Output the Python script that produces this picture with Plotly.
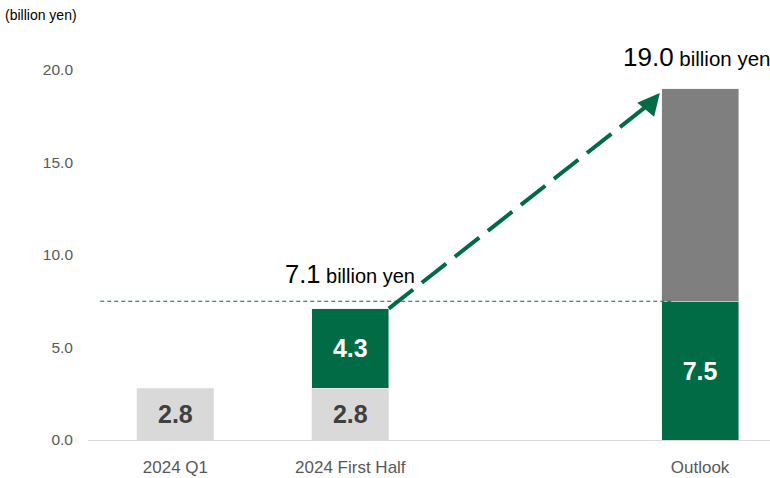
import plotly.graph_objects as go

# Category positions (slot 2 left empty to open space before the outlook bar)
categories = ["2024 Q1", "2024 First Half", "Outlook"]
positions = [0, 1, 3]

# Values in billion yen
base_values = [2.8, 2.8, None]       # light grey segment
growth_values = [None, 4.3, 7.5]     # green segment
remaining_values = [None, None, 11.5]  # dark grey segment (outlook remainder)

half_total = 7.1
outlook_total = 19.0
reference_level = 7.5

y_ticks = [0, 5, 10, 15, 20]
y_tick_text = ["0.0", "5.0", "10.0", "15.0", "20.0"]

GREEN = "#006B45"
LIGHT = "#D9D9D9"
DARK = "#7F7F7F"
FONT = "Liberation Sans, Arial, sans-serif"
BAR_W = 0.44


def fmt(vals):
    return [f"{v:.1f}" if v is not None else "" for v in vals]


fig = go.Figure()

fig.add_trace(go.Bar(
    x=positions, y=base_values, width=BAR_W, marker_color=LIGHT,
    text=fmt(base_values), textposition="inside", insidetextanchor="middle",
    textangle=0, constraintext="none",
    textfont=dict(family=FONT, size=25, color="#404040", weight="bold"),
    hoverinfo="skip",
))
fig.add_trace(go.Bar(
    x=positions, y=growth_values, width=BAR_W, marker_color=GREEN,
    text=fmt(growth_values), textposition="inside", insidetextanchor="middle",
    textangle=0, constraintext="none",
    textfont=dict(family=FONT, size=25, color="white", weight="bold"),
    hoverinfo="skip",
))
fig.add_trace(go.Bar(
    x=positions, y=remaining_values, width=BAR_W, marker_color=DARK,
    textposition="none", hoverinfo="skip",
))

# Thin dashed reference line at the outlook's green level
fig.add_shape(
    type="line", xref="x", yref="y",
    x0=-0.43, x1=3 - BAR_W / 2 + 0.06, y0=reference_level, y1=reference_level,
    line=dict(color=GREEN, width=1, dash="4px,3px"), layer="above",
)

# Dashed growth arrow from the first-half total up to the outlook total
x_start, y_start = 1 + BAR_W / 2, half_total
x_end, y_end = 2.77, 18.76
fig.add_shape(
    type="line", xref="x", yref="y",
    x0=x_start, y0=y_start, x1=x_end - 0.04, y1=y_end - 0.45,
    line=dict(color=GREEN, width=4, dash="31px,11px"), layer="above",
)
fig.add_annotation(
    x=x_end, y=y_end, ax=x_end - 0.08, ay=y_end - 0.9,
    xref="x", yref="y", axref="x", ayref="y",
    text="", showarrow=True, arrowhead=2, arrowsize=1.1,
    arrowwidth=4, arrowcolor=GREEN,
)

# Total labels
fig.add_annotation(
    x=1, y=half_total + 1.9, xref="x", yref="y",
    text=f"<span style='font-size:25.5px'>{half_total:.1f}</span> billion yen",
    showarrow=False, font=dict(family=FONT, size=20, color="#000000"),
    xanchor="center", yanchor="middle",
)
fig.add_annotation(
    x=2.98, y=outlook_total + 1.7, xref="x", yref="y",
    text=f"<span style='font-size:26px'>{outlook_total:.1f}</span> billion yen",
    showarrow=False, font=dict(family=FONT, size=20.5, color="#000000"),
    xanchor="center", yanchor="middle",
)

# Unit label
fig.add_annotation(
    x=-0.125, y=(440 - 15) / 407, xref="paper", yref="paper",
    text="(billion yen)", showarrow=False,
    font=dict(family=FONT, size=14, color="#000000"),
    xanchor="left", yanchor="middle",
)

fig.update_layout(
    width=770, height=478,
    margin=dict(l=88, r=0, t=33, b=38),
    barmode="stack", showlegend=False,
    plot_bgcolor="white", paper_bgcolor="white",
    font=dict(family=FONT),
    xaxis=dict(
        range=[-0.5, 3.4], tickvals=positions, ticktext=categories,
        showgrid=False, zeroline=False, showline=True,
        linecolor="#D9D9D9", linewidth=1, ticks="",
        ticklabelstandoff=12,
        tickfont=dict(family=FONT, size=17, color="#595959"),
    ),
    yaxis=dict(
        range=[0, 22], tickvals=y_ticks, ticktext=y_tick_text,
        showgrid=False, zeroline=False, showline=False, ticks="",
        ticklabelstandoff=14,
        tickfont=dict(family=FONT, size=15.5, color="#595959"),
    ),
)

fig.write_html("out.html")
